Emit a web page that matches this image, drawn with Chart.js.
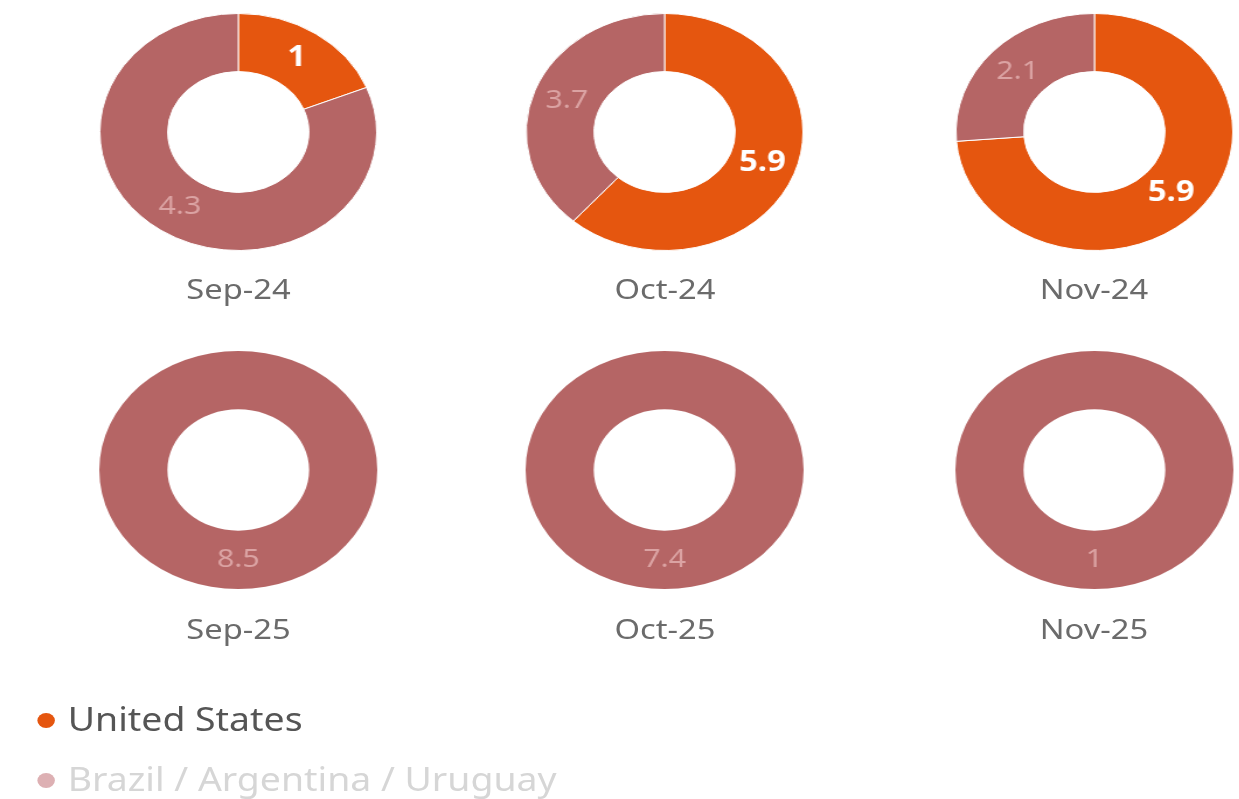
<!DOCTYPE html>
<html>
<head>
<meta charset="utf-8">
<script src="https://cdn.jsdelivr.net/npm/chart.js@4.4.1/dist/chart.umd.min.js"></script>
<style>
  html, body { margin: 0; background: #fff; overflow: hidden; }
  /* the reference is stretched horizontally, so the whole page is too */
  #page {
    position: absolute; left: 0; top: 0; width: 1061px; height: 799px;
    transform: scaleX(1.168); transform-origin: 0 0;
    font-family: "Noto Sans", sans-serif;
  }
  .cell { position: absolute; width: 240px; height: 240px; }
  .cell canvas { display: block; }
  .period {
    position: absolute; width: 240px; text-align: center;
    font-size: 28px; line-height: 1; color: #6b6b6b;
  }
  .legend-item {
    position: absolute; left: 32px; font-size: 32px; line-height: 1; white-space: nowrap;
  }
  .legend-item .dot {
    display: inline-block; width: 15px; height: 15px; border-radius: 50%;
    margin-right: 11px; vertical-align: 3px;
  }
</style>
</head>
<body>
<div id="page"></div>
<script>
  const periods = ["Sep-24", "Oct-24", "Nov-24", "Sep-25", "Oct-25", "Nov-25"];
  const seriesNames = ["United States", "Brazil / Argentina / Uruguay"];
  const unitedStates = [1, 5.9, 5.9, 0, 0, 0];
  const brazilArgUru = [4.3, 3.7, 2.1, 8.5, 7.4, 1];

  const sliceColors = ["#e5560f", "#b56565"];
  const valueColors = ["#ffffff", "#dba3a3"];
  const valueFonts = ['bold 28px "Noto Sans"', '26px "Noto Sans"'];

  // grid centres (unstretched page coordinates)
  const colCenters = [204.2, 569.3, 936.6];
  const rowCenters = [132, 470];
  const labelTops = [274, 614];

  // value labels in the middle of each slice
  const sliceLabels = {
    id: "sliceLabels",
    afterDatasetsDraw(chart) {
      const ctx = chart.ctx;
      const values = chart.data.datasets[0].data;
      chart.getDatasetMeta(0).data.forEach((arc, i) => {
        if (!values[i]) return;
        const p = arc.tooltipPosition();
        ctx.save();
        ctx.font = valueFonts[i];
        ctx.fillStyle = valueColors[i];
        ctx.textAlign = "center";
        ctx.textBaseline = "middle";
        ctx.fillText(String(values[i]), p.x, p.y);
        ctx.restore();
      });
    },
  };

  const page = document.getElementById("page");

  periods.forEach((period, i) => {
    const cx = colCenters[i % 3];
    const cy = rowCenters[Math.floor(i / 3)];

    const cell = document.createElement("div");
    cell.className = "cell";
    cell.style.left = cx - 120 + "px";
    cell.style.top = cy - 120 + "px";
    const canvas = document.createElement("canvas");
    canvas.width = 240;
    canvas.height = 240;
    cell.appendChild(canvas);
    page.appendChild(cell);

    const label = document.createElement("div");
    label.className = "period";
    label.textContent = period;
    label.style.left = cx - 120 + "px";
    label.style.top = labelTops[Math.floor(i / 3)] + "px";
    page.appendChild(label);

    // no separator line when one slice is empty
    const both = unitedStates[i] > 0 && brazilArgUru[i] > 0;

    new Chart(canvas, {
      type: "doughnut",
      data: {
        labels: seriesNames,
        datasets: [
          {
            data: [unitedStates[i], brazilArgUru[i]],
            backgroundColor: sliceColors,
            borderColor: "#ffffff",
            borderWidth: both ? 1 : 0,
          },
        ],
      },
      options: {
        responsive: false,
        animation: false,
        cutout: "51%",
        layout: { padding: 1 },
        plugins: {
          legend: { display: false },
          tooltip: { enabled: false },
        },
      },
      plugins: [sliceLabels],
    });
  });

  // legend
  const legendDots = ["#e5560f", "#ddb0b3"];
  const legendText = ["#555555", "#d6d6d6"];
  const legendTops = [703, 763];
  seriesNames.forEach((name, i) => {
    const item = document.createElement("div");
    item.className = "legend-item";
    item.style.top = legendTops[i] + "px";
    item.style.color = legendText[i];
    const dot = document.createElement("span");
    dot.className = "dot";
    dot.style.background = legendDots[i];
    item.appendChild(dot);
    item.appendChild(document.createTextNode(name));
    page.appendChild(item);
  });
</script>
</body>
</html>
